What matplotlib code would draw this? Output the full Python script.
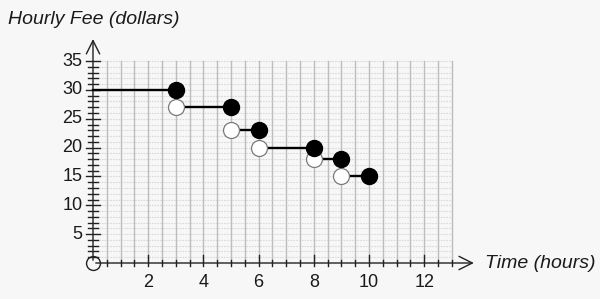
"""Tarif horaire en escalier : frais (dollars) selon la durée (heures)."""

import matplotlib

matplotlib.use("Agg")
import matplotlib.pyplot as plt

# Données du graphique
debut_palier = [0, 3, 5, 6, 8, 9]      # heures
fin_palier = [3, 5, 6, 8, 9, 10]       # heures
tarif = [30, 27, 23, 20, 18, 15]       # dollars
ticks_x = [2, 4, 6, 8, 10, 12]
ticks_y = [5, 10, 15, 20, 25, 30, 35]

plt.rcParams["font.family"] = ["Liberation Sans", "DejaVu Sans"]

FOND = "#f7f7f7"
TEXTE = "#1a1a1a"

fig = plt.figure(figsize=(6.0, 2.99), dpi=100, facecolor=FOND)
ax = fig.add_axes([0, 0, 1, 1], facecolor=FOND)
# échelle : 27.6 px par heure, 5.77 px par dollar, origine en (93, 263) px
ax.set_xlim(-93 / 27.6, (600 - 93) / 27.6)
ax.set_ylim((263 - 299) / 5.77, 263 / 5.77)
ax.axis("off")

# quadrillage
for k in range(1, 36):
    ax.plot([0, 13], [k, k], color="#dadada", lw=0.8, ls=(0, (1.5, 1)), zorder=1)
for k in range(1, 27):
    ax.plot([k / 2, k / 2], [0, 35], color="#bdbdbd", lw=1.0, zorder=1)

# axes avec flèches
ax.annotate("", xy=(13.9, 0), xytext=(0, 0),
            arrowprops=dict(arrowstyle="->", color="#222222", lw=1.0,
                            mutation_scale=24), zorder=3)
ax.annotate("", xy=(0, 39.3), xytext=(0, 0),
            arrowprops=dict(arrowstyle="->", color="#222222", lw=1.0,
                            mutation_scale=24), zorder=3)

# graduations
for k in range(1, 36):
    demi = 0.27 if k % 5 == 0 else 0.17
    ax.plot([-demi, demi], [k, k], color="#222222", lw=1.0, zorder=3)
for k in range(1, 27):
    if k % 4 == 0:
        ax.plot([k / 2, k / 2], [-0.55, 1.4], color="#222222", lw=1.0, zorder=3)
    else:
        ax.plot([k / 2, k / 2], [-0.55, 0.55], color="#222222", lw=1.0, zorder=3)

for v in ticks_y:
    ax.text(-0.38, v, str(v), ha="right", va="center", fontsize=13, color=TEXTE)
for v in ticks_x:
    ax.text(v, -3.3, str(v), ha="center", va="center", fontsize=13, color=TEXTE)

ax.text(-3.08, 42.2, "Hourly Fee (dollars)", ha="left", va="center",
        fontsize=14, style="italic", color=TEXTE)
ax.text(14.2, 0, "Time (hours)", ha="left", va="center",
        fontsize=14, style="italic", color=TEXTE)

# origine
ax.plot([0], [0], "o", ms=10, mfc="none", mec="#222222", mew=1.0, zorder=4)

# paliers
for x0, x1, y in zip(debut_palier, fin_palier, tarif):
    ax.plot([x0, x1], [y, y], color="black", lw=1.7, zorder=5)
for x0, y in zip(debut_palier[1:], tarif[1:]):
    ax.plot([x0], [y], "o", ms=11.5, mfc="white", mec="#7a7a7a", mew=0.9, zorder=6)
for x1, y in zip(fin_palier, tarif):
    ax.plot([x1], [y], "o", ms=11.5, mfc="black", mec="black", zorder=7)

fig.savefig("out.png", dpi=100, facecolor=FOND)
